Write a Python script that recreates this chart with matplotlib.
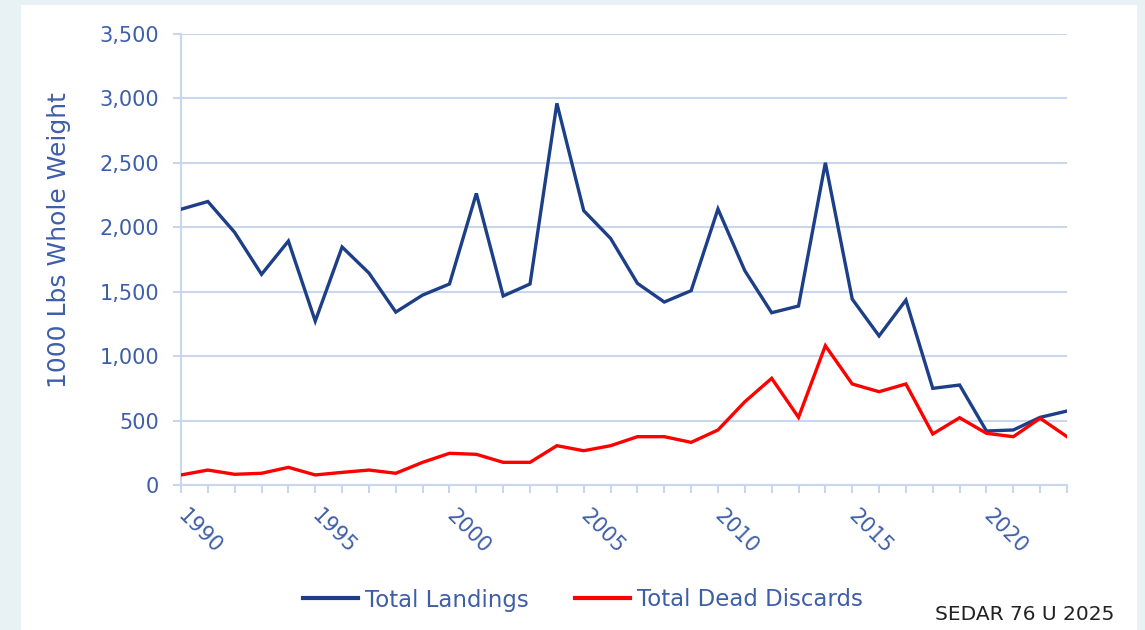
import matplotlib
matplotlib.use("Agg")
import matplotlib.pyplot as plt
from matplotlib.patches import Rectangle
from matplotlib.ticker import FuncFormatter, MultipleLocator

years = list(range(1990, 2024))
landings = [2140, 2200, 1960, 1635, 1893, 1272, 1847, 1645, 1342, 1474,
            1560, 2263, 1467, 1560, 2962, 2129, 1914, 1565, 1420, 1508,
            2142, 1663, 1337, 1389, 2501, 1443, 1157, 1435, 750, 776,
            419, 427, 525, 574]
dead_discards = [78, 116, 83, 91, 137, 78, 98, 116, 91, 176,
                 246, 238, 176, 176, 305, 266, 305, 375, 375, 331,
                 427, 646, 828, 525, 1081, 784, 724, 784, 396, 522,
                 401, 375, 518, 375]
series_names = ["Total Landings", "Total Dead Discards"]

W, H = 1145, 630
plt.rcParams["font.family"] = ["DejaVu Sans"]
text_blue = "#3e5ea8"
grid_blue = "#c9d6ee"

fig = plt.figure(figsize=(W / 100, H / 100), dpi=100, facecolor="#e8f1f4")
fig.patches.append(Rectangle((21 / W, 0), (1137 - 21) / W, 1 - 5 / H,
                             transform=fig.transFigure, facecolor="white",
                             edgecolor="none", zorder=-10))

ax = fig.add_axes([181 / W, 1 - 485 / H, (1067 - 181) / W, (485 - 34) / H])
ax.set_facecolor("none")
ax.plot(years, landings, color="#1c3f87", lw=2.4, label=series_names[0],
        solid_joinstyle="miter", zorder=3)
ax.plot(years, dead_discards, color="#ff0000", lw=2.4, label=series_names[1],
        solid_joinstyle="miter", zorder=3)

ax.set_xlim(1990, 2023)
ax.set_ylim(0, 3500)
ax.yaxis.set_major_locator(MultipleLocator(500))
ax.yaxis.set_major_formatter(FuncFormatter(lambda v, p: f"{v:,.0f}"))
ax.xaxis.set_major_locator(MultipleLocator(5))
ax.xaxis.set_minor_locator(MultipleLocator(1))
ax.grid(axis="y", color=grid_blue, lw=1.5, zorder=1)
for s in ["top", "right"]:
    ax.spines[s].set_visible(False)
for s in ["left", "bottom"]:
    ax.spines[s].set_color(grid_blue)
    ax.spines[s].set_linewidth(1.5)
ax.tick_params(axis="y", length=5.8, width=1.5, color=grid_blue,
               labelcolor=text_blue, labelsize=15, pad=10)
ax.tick_params(axis="x", which="both", length=5.8, width=1.5, color=grid_blue,
               labelcolor=text_blue, labelsize=15, pad=14)
for lab in ax.get_xticklabels():
    lab.set_rotation(-45)
    lab.set_ha("left")
    lab.set_va("center")
    lab.set_rotation_mode("anchor")

ax.set_ylabel("1000 Lbs Whole Weight", color=text_blue, fontsize=18)
ax.yaxis.set_label_coords((71 - 181) / 886, (485 - 240) / 451)

leg = fig.legend(loc="center", bbox_to_anchor=(583 / W, 1 - 600 / H), ncol=2,
                 frameon=False, fontsize=16.5, handlelength=2.4,
                 handletextpad=0.3, columnspacing=2.0)
for h in leg.get_lines():
    h.set_linewidth(3)
for t in leg.get_texts():
    t.set_color(text_blue)

fig.text(1114 / W, 1 - 614 / H, "SEDAR 76 U 2025", ha="right", va="center",
         fontsize=14.5, color="#222222")

fig.savefig("out.png", dpi=100, facecolor=fig.get_facecolor())
